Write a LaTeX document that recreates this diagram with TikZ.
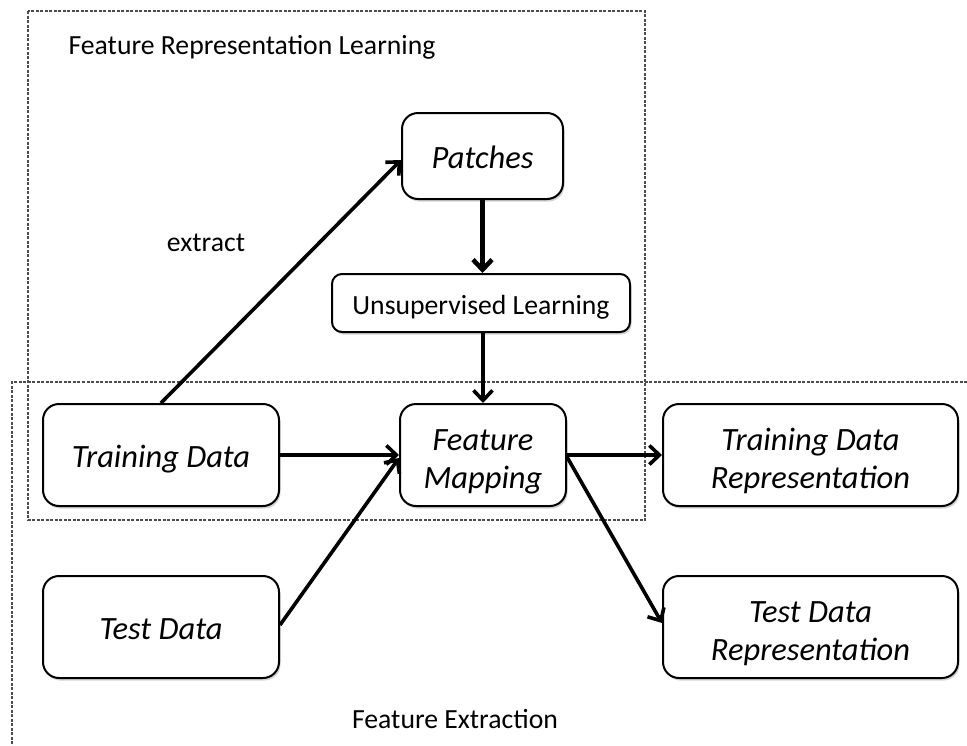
\documentclass[tikz,border=0pt]{standalone}
\usepackage{fontspec}
\setmainfont{Carlito}
\usetikzlibrary{arrows.meta,shadows}
\begin{document}
\begin{tikzpicture}[x=1pt,y=-1pt,
  box/.style={draw=black, line width=2pt, rounded corners=16pt, fill=white, inner sep=0pt,
    align=center, font=\fontsize{32.5}{38}\selectfont\itshape,
    text height=25pt, text depth=0pt,
    drop shadow={shadow xshift=1.5pt, shadow yshift=-2.5pt, opacity=0.35}},
  twoline/.style={text height=67pt, text depth=0pt},
  lbl/.style={inner sep=0pt, font=\fontsize{27.7}{33}\selectfont},
  region/.style={draw=gray!60!black, line width=2.2pt, dash pattern=on 3pt off 1.5pt},
  arr/.style={line width=3.6pt, -{Straight Barb[length=10pt,width=19pt]}}
]
\useasboundingbox (0,0) rectangle (967,745);
\clip (0,0) rectangle (967,745);
\fill[white] (0,0) rectangle (967,745);

% regions
\draw[region] (28,11) rectangle (645,520);
\draw[region] (985,382) -- (12,382) -- (12,760);

% labels
\node[lbl] (frl) at (252,47) {Feature Representation Learning};
\node[lbl] (ext) at (206,243) {extract};
\node[lbl] (fe) at (455,719) {Feature Extraction};

% nodes
\node[box, minimum width=161pt, minimum height=86pt] (patches) at (482.5,156) {Patches};
\node[box, minimum width=298pt, minimum height=58pt, rounded corners=10pt,
  font=\fontsize{27.7}{33}\selectfont, text height=22pt] (ul) at (481,303) {Unsupervised Learning};
\node[box, minimum width=236pt, minimum height=102pt] (train) at (161,455) {Training Data};
\node[box, twoline, minimum width=166pt, minimum height=102pt] (fm) at (483,455) {Feature\\Mapping};
\node[box, twoline, minimum width=295pt, minimum height=102pt] (trainrep) at (810.5,455) {Training Data\\Representation};
\node[box, minimum width=236pt, minimum height=102pt] (test) at (161,627) {Test Data};
\node[box, twoline, minimum width=295pt, minimum height=102pt] (testrep) at (810.5,627) {Test Data\\Representation};

% connectors
\draw[arr] (train.north) -- ([yshift=-4pt]patches.west);
\draw[arr, line width=4.6pt] (patches.south) -- (ul.north -| patches.south);
\draw[arr] (ul.south -| fm.north) -- (fm.north);
\draw[arr] (train.east) -- (fm.west);
\draw[arr] ([yshift=2pt]test.east) -- ([yshift=-3pt]fm.west);
\draw[arr] (fm.east) -- (trainrep.west);
\draw[arr] ([yshift=-2pt]fm.east) -- ([yshift=4pt]testrep.west);
\end{tikzpicture}
\end{document}
